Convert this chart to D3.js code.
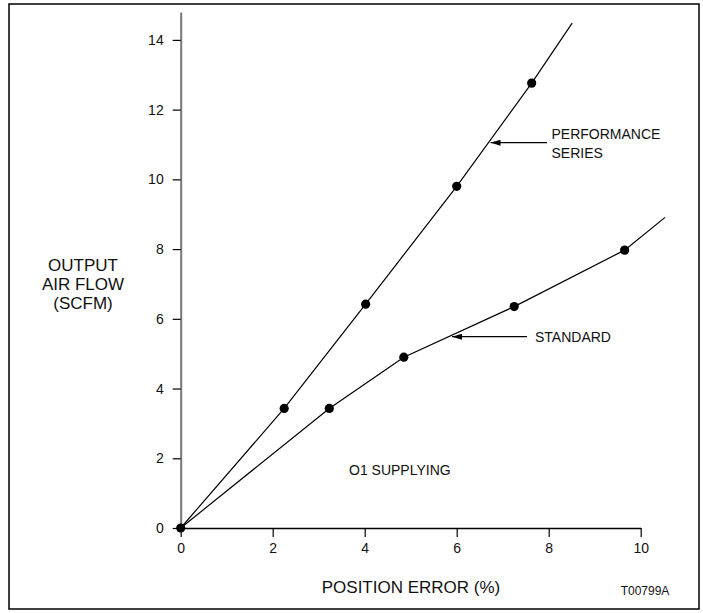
<!DOCTYPE html>
<html lang="en">
<head>
<meta charset="utf-8">
<title>Output air flow vs position error</title>
<script src="https://d3js.org/d3.v7.min.js"></script>
<style>
  body { margin: 0; background: #fff; }
  text { font-family: "Liberation Sans", Arial, Helvetica, sans-serif; fill: #111; }
</style>
</head>
<body>
<script>
// data
const xTicks = [0, 2, 4, 6, 8, 10];
const yTicks = [0, 2, 4, 6, 8, 10, 12, 14];

// performance series: measured points, then where the drawn line stops
const perfX = [0, 2.25, 4.02, 6.0, 7.63];
const perfY = [0, 3.43, 6.42, 9.8, 12.76];
const perfEnd = [8.51, 14.48];

// standard: measured points, then line end
const stdX = [0, 3.23, 4.85, 7.25, 9.65];
const stdY = [0, 3.43, 4.90, 6.35, 7.97];
const stdEnd = [10.53, 8.91];

const w = 703, h = 613;

const svg = d3.select("body").append("svg")
    .attr("width", w)
    .attr("height", h);

// frame
svg.append("rect")
    .attr("x", 9).attr("y", 4)
    .attr("width", 690).attr("height", 605)
    .attr("fill", "none")
    .attr("stroke", "#000")
    .attr("stroke-width", 1.5);

const x = d3.scaleLinear([0, 10], [180.7, 640.7]);
const y = d3.scaleLinear([0, 14.8], [528, 12]);

// x axis
const gx = svg.append("g")
    .attr("transform", `translate(0,${y(0)})`)
    .call(d3.axisBottom(x).tickValues(xTicks).tickSize(9).tickSizeOuter(0).tickPadding(6));
gx.select(".domain").attr("stroke", "#000").attr("stroke-width", 1.5);
gx.selectAll(".tick line").attr("stroke", "#000").attr("stroke-width", 1.2);
gx.selectAll(".tick text").attr("font-size", 14).attr("font-family", null).attr("fill", "#111");

// y axis
const gy = svg.append("g")
    .attr("transform", `translate(${x(0)},0)`)
    .call(d3.axisLeft(y).tickValues(yTicks).tickSize(8).tickSizeOuter(0).tickPadding(9));
gy.select(".domain").attr("stroke", "#777").attr("stroke-width", 2);
gy.selectAll(".tick line").attr("stroke", "#000").attr("stroke-width", 1.2);
gy.selectAll(".tick text").attr("font-size", 14).attr("font-family", null).attr("fill", "#111");

// lines
const line = d3.line().x(d => x(d[0])).y(d => y(d[1]));
const perfPts = perfX.map((v, i) => [v, perfY[i]]);
const stdPts = stdX.map((v, i) => [v, stdY[i]]);

[perfPts.concat([perfEnd]), stdPts.concat([stdEnd])].forEach(pts => {
  svg.append("path")
      .attr("d", line(pts))
      .attr("fill", "none")
      .attr("stroke", "#000")
      .attr("stroke-width", 1.2);
});

// dots
svg.append("g")
  .selectAll("circle")
  .data(perfPts.concat(stdPts.slice(1)))
  .join("circle")
    .attr("cx", d => x(d[0]))
    .attr("cy", d => y(d[1]))
    .attr("r", 4.6)
    .attr("fill", "#000");

// callouts with arrows
svg.append("defs").append("marker")
    .attr("id", "arrow")
    .attr("viewBox", "0 0 10 6")
    .attr("refX", 10).attr("refY", 3)
    .attr("markerWidth", 10).attr("markerHeight", 6)
    .attr("markerUnits", "userSpaceOnUse")
    .attr("orient", "auto")
  .append("path")
    .attr("d", "M0,0L10,3L0,6Z")
    .attr("fill", "#000");

svg.append("line")
    .attr("x1", 547).attr("y1", 142.7)
    .attr("x2", 490.5).attr("y2", 142.7)
    .attr("stroke", "#000").attr("stroke-width", 1.2)
    .attr("marker-end", "url(#arrow)");
svg.append("text").attr("x", 551.5).attr("y", 138.5).attr("font-size", 14).text("PERFORMANCE");
svg.append("text").attr("x", 551.5).attr("y", 157.5).attr("font-size", 14).text("SERIES");

svg.append("line")
    .attr("x1", 527).attr("y1", 336.7)
    .attr("x2", 452).attr("y2", 336.7)
    .attr("stroke", "#000").attr("stroke-width", 1.2)
    .attr("marker-end", "url(#arrow)");
svg.append("text").attr("x", 535).attr("y", 341.7).attr("font-size", 14).text("STANDARD");

svg.append("text").attr("x", 349).attr("y", 475).attr("font-size", 14).text("O1 SUPPLYING");

// axis titles
svg.append("text")
    .attr("x", 411).attr("y", 593)
    .attr("text-anchor", "middle")
    .attr("font-size", 17)
    .text("POSITION ERROR (%)");

const ytitle = ["OUTPUT", "AIR FLOW", "(SCFM)"];
svg.append("g").selectAll("text")
  .data(ytitle)
  .join("text")
    .attr("x", 83)
    .attr("y", (d, i) => 271 + i * 19)
    .attr("text-anchor", "middle")
    .attr("font-size", 17)
    .text(d => d);

svg.append("text")
    .attr("x", 645).attr("y", 595)
    .attr("text-anchor", "middle")
    .attr("font-size", 12)
    .text("T00799A");
</script>
</body>
</html>
